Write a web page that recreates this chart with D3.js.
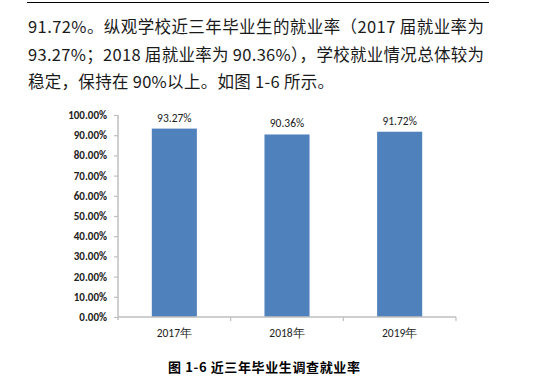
<!DOCTYPE html>
<html><head><meta charset="utf-8">
<script src="https://cdn.jsdelivr.net/npm/d3@7/dist/d3.min.js"></script>
<style>body{margin:0;background:#fff}svg{display:block}</style>
</head><body>
<script>
const categories = ["2017年", "2018年", "2019年"];
const values = [93.27, 90.36, 91.72];
const yTicks = [0, 10, 20, 30, 40, 50, 60, 70, 80, 90, 100];
const paragraph = [
  "91.72%。纵观学校近三年毕业生的就业率（2017 届就业率为",
  "93.27%；2018 届就业率为 90.36%），学校就业情况总体较为",
  "稳定，保持在 90%以上。如图 1-6 所示。"
];
const caption = "图 1-6  近三年毕业生调查就业率";

const W = 536, H = 384;
const svg = d3.select("body").append("svg").attr("width", W).attr("height", H);

// top rule
svg.append("line").attr("x1", 27).attr("x2", 489).attr("y1", 2.5).attr("y2", 2.5)
  .attr("stroke", "#000").attr("stroke-width", 1);

// paragraph
const lineW = [456, 456, 306];
paragraph.forEach((t, i) => {
  svg.append("text").attr("x", 28).attr("y", 33 + i * 27.5)
    .attr("font-family", "'Noto Sans CJK SC', sans-serif").attr("font-size", 16.5)
    .attr("fill", "#1a1a1a").attr("textLength", lineW[i]).attr("lengthAdjust", "spacing")
    .text(t);
});

const x = d3.scaleBand().domain(categories).range([118, 456]).paddingInner(0.6).paddingOuter(0.3);
const y = d3.scaleLinear().domain([0, 100]).range([317, 115]);
const axisColor = "#bfbfbf";
const labelFont = "Carlito, Calibri, 'Liberation Sans', Arial, sans-serif";

// bars
svg.selectAll("rect.bar").data(values).enter().append("rect")
  .attr("x", (d, i) => x(categories[i])).attr("width", x.bandwidth())
  .attr("y", d => y(d)).attr("height", d => y(0) - y(d))
  .attr("fill", "#4f81bd");

// y axis
const yAxis = d3.axisLeft(y).tickValues(yTicks).tickSize(4).tickFormat(d => d.toFixed(2) + "%");
const gy = svg.append("g").attr("transform", "translate(118,0)").call(yAxis);
gy.select(".domain").attr("stroke", axisColor).attr("stroke-width", 1.5).attr("d", "M0,115V320");
gy.selectAll(".tick line").attr("stroke", axisColor).attr("stroke-width", 1.2);
gy.selectAll(".tick text").attr("x", -11).attr("font-family", labelFont).attr("font-size", 11)
  .attr("font-weight", "bold").attr("fill", "#222");

// x axis
const gx = svg.append("g").attr("transform", "translate(0,317)");
gx.append("line").attr("x1", 118).attr("x2", 456).attr("y1", 0).attr("y2", 0)
  .attr("stroke", axisColor).attr("stroke-width", 1.5);
const bounds = categories.map(c => x(c) + x.bandwidth() + x.step() * x.paddingInner() / 2);
gx.selectAll("line.tk").data(bounds).enter().append("line")
  .attr("x1", d => d).attr("x2", d => d).attr("y1", 0).attr("y2", 4)
  .attr("stroke", axisColor).attr("stroke-width", 1.2);
gx.selectAll("text").data(categories).enter().append("text")
  .attr("x", d => x(d) + x.bandwidth() / 2).attr("y", 19.5)
  .attr("text-anchor", "middle").attr("font-family", labelFont).attr("font-size", 11.5)
  .attr("fill", "#222").text(d => d);

// data labels
svg.selectAll("text.dl").data(values).enter().append("text")
  .attr("x", (d, i) => x(categories[i]) + x.bandwidth() / 2).attr("y", d => y(d) - 7)
  .attr("text-anchor", "middle").attr("font-family", labelFont).attr("font-size", 11.5)
  .attr("fill", "#222").text(d => d.toFixed(2) + "%");

// caption
svg.append("text").attr("x", 168).attr("y", 372)
  .attr("font-family", "'Noto Sans CJK SC', sans-serif").attr("font-size", 13).attr("font-weight", "bold")
  .attr("fill", "#000").attr("textLength", 192).attr("lengthAdjust", "spacing").text(caption);
</script>
</body></html>
